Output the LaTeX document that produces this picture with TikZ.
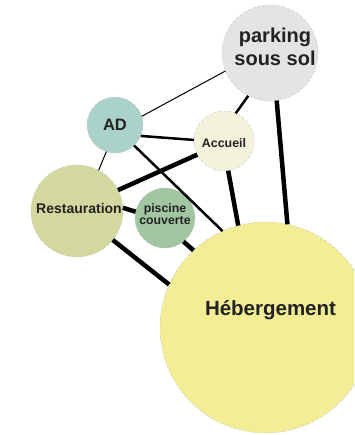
\documentclass[tikz,border=0pt]{standalone}
\usepackage{fontspec}
\setmainfont{Liberation Sans}
\usepackage{tikz}

\definecolor{cParking}{HTML}{E4E4E6}
\definecolor{cAD}{HTML}{AAD2C8}
\definecolor{cAccueil}{HTML}{F3F3DC}
\definecolor{cResto}{HTML}{D3D99E}
\definecolor{cPiscine}{HTML}{A3C6A2}
\definecolor{cHeb}{HTML}{F3ED96}
\definecolor{cTexte}{HTML}{222222}

\begin{document}
\begin{tikzpicture}[x=1pt,y=-1pt,
	bulle/.style={circle,minimum size=#1,inner sep=0pt,outer sep=0pt,
		draw=gray!45,densely dashed,line width=0.4pt},
	fin/.style={line width=1pt},
	moyen/.style={line width=2.5pt},
	epais/.style={line width=4.5pt}]
		\useasboundingbox (0,0) rectangle (354,435);
		\clip (0,0) rectangle (354,435);
		%
		\node[bulle=96,fill=cParking,label={[align=center,xshift=5pt,yshift=6pt,text=cTexte,
			font=\fontsize{20}{23}\selectfont\bfseries]center:parking\\sous sol}] (P) at (270,53) {};
		\node[bulle=56,fill=cAD,label={[text=cTexte,
			font=\fontsize{16.5}{18}\selectfont\bfseries]center:AD}] (AD) at (115,125) {};
		\node[bulle=60,fill=cAccueil,label={[yshift=-2pt,text=cTexte,
			font=\fontsize{12.4}{14}\selectfont\bfseries]center:Accueil}] (Ac) at (224,141) {};
		\node[bulle=92,fill=cResto,label={[xshift=2pt,yshift=3pt,text=cTexte,
			font=\fontsize{14}{16}\selectfont\bfseries]center:Restauration}] (R) at (77,211) {};
		\node[bulle=60,fill=cPiscine,label={[align=center,yshift=4pt,text=cTexte,
			font=\fontsize{12.3}{12.5}\selectfont\bfseries]center:piscine\\couverte}] (Pi) at (165,218) {};
		\node[bulle=211,fill=cHeb,label={[xshift=5pt,yshift=17pt,text=cTexte,
			font=\fontsize{20.5}{23}\selectfont\bfseries]center:H\'ebergement}] (H) at (265.5,327.5) {};
		%
		\path[black]
		(P.202) edge[fin] (AD.18)
		(P.243) edge[moyen] (Ac.67)
		(P.278) edge[epais] (H.78.5)
		(AD.337) edge[moyen] (Ac.178)
		(AD.313) edge[moyen] (H.114.5)
		(AD.252) edge[fin] (R.62)
		(Ac.207) edge[epais] (R.27)
		(Ac.278) edge[epais] (H.105)
		(R.4) edge[epais] (Pi.168)
		(R.321) edge[epais] (H.156)
		(Pi.308) edge[epais] (H.133);
\end{tikzpicture}
\end{document}
